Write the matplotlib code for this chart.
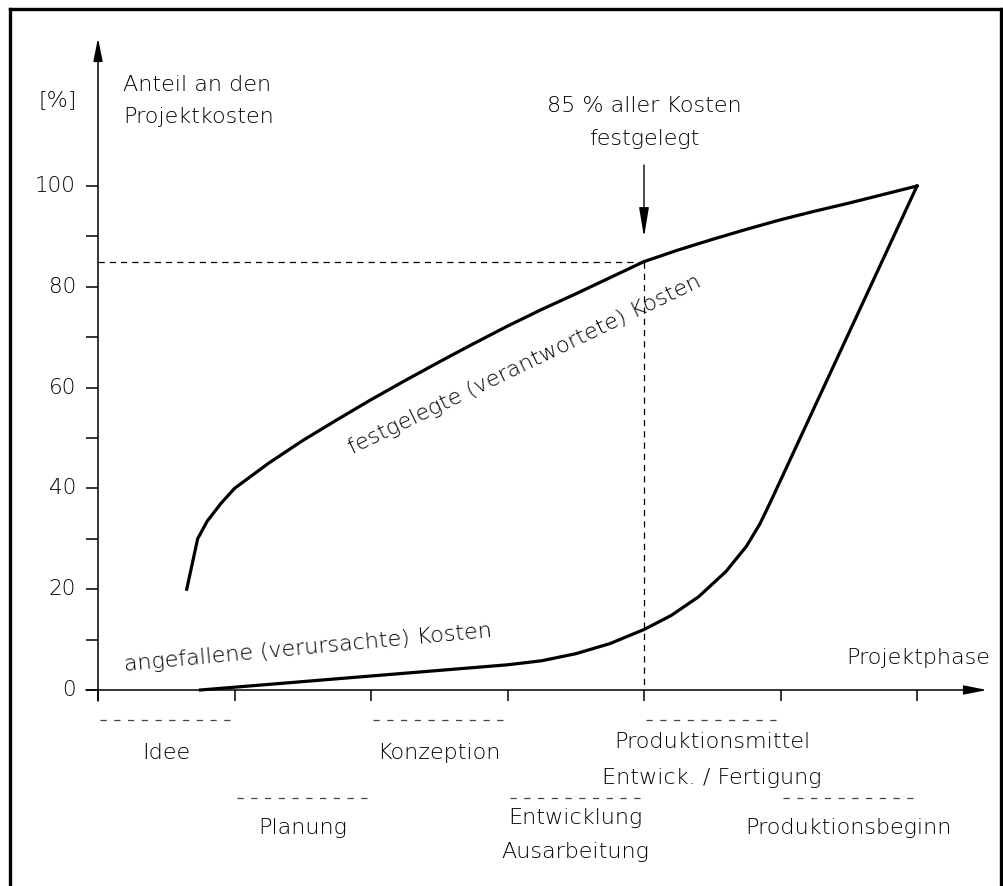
import matplotlib
matplotlib.use("Agg")
import matplotlib.pyplot as plt
from matplotlib.lines import Line2D

# ---------------- data ----------------
fest_x = [0.65, 0.73, 0.80, 0.90, 1.00, 1.25, 1.50, 1.75, 2.00, 2.25, 2.50, 2.75, 3.00,
          3.25, 3.50, 3.75, 4.00, 4.25, 4.50, 4.75, 5.00, 5.25, 5.50, 5.75, 6.00]
fest_y = [20, 30, 33.5, 37, 40, 45, 49.5, 53.6, 57.6, 61.4, 65.1, 68.7, 72.2,
          75.5, 78.6, 81.8, 85, 87.3, 89.4, 91.4, 93.3, 95.0, 96.6, 98.3, 100]

ang_x = [0.75, 3.00, 3.25, 3.50, 3.75, 4.00, 4.20, 4.40, 4.60, 4.75, 4.85, 4.93, 6.00]
ang_y = [0, 5.0, 5.8, 7.2, 9.2, 12.0, 14.8, 18.5, 23.5, 28.5, 33.0, 37.5, 100]

y_major = [0, 20, 40, 60, 80, 100]
y_minor = [10, 30, 50, 70, 90]
x_ticks = [0, 1, 2, 3, 4, 5, 6]

phases_row1 = ["Idee", "Konzeption", ["Produktionsmittel", "Entwick. / Fertigung"]]
phases_row2 = ["Planung", ["Entwicklung", "Ausarbeitung"], "Produktionsbeginn"]

mark_phase = 4
mark_value = 85

# ---------------- figure ----------------
W, H = 1004, 886
fig = plt.figure(figsize=(W / 100, H / 100), dpi=100)
fig.patch.set_facecolor("white")

x0_px, x6_px, y0_px, y100_px = 98, 917, 690, 186
ax = fig.add_axes([x0_px / W, (H - y0_px) / H, (x6_px - x0_px) / W, (y0_px - y100_px) / H])
ax.set_xlim(0, 6)
ax.set_ylim(0, 100)
ax.axis("off")

pxx = (x6_px - x0_px) / 6.0     # px per phase
pxy = (y0_px - y100_px) / 100.0  # px per percent

def dx(px):
    return px / pxx

def dy(px):
    return px / pxy

FONT = dict(family="DejaVu Sans", fontsize=16, color="black", fontweight="light")
TICKFONT = dict(family="DejaVu Sans", fontsize=15.5, color="black", fontweight="light")
LW_AX = 1.1

# frame
def fline(xs, ys, lw=2.4):
    fig.add_artist(Line2D([x / W for x in xs], [1 - y / H for y in ys], lw=lw, color="black",
                          transform=fig.transFigure, solid_capstyle="projecting"))

fline([10, 1001], [9, 9])
fline([10, 10], [9, 890])
fline([1001, 1001], [9, 890])

# axes with arrows
ax.annotate("", xy=(0, dy(y0_px - 38)), xytext=(0, -dy(11)),
            arrowprops=dict(arrowstyle="-|>,head_length=1.0,head_width=0.2", lw=LW_AX, color="black",
                            mutation_scale=14, shrinkA=0, shrinkB=0), annotation_clip=False)
ax.annotate("", xy=(dx(987 - x0_px), 0), xytext=(-dx(12), 0),
            arrowprops=dict(arrowstyle="-|>,head_length=1.0,head_width=0.2", lw=LW_AX, color="black",
                            mutation_scale=14, shrinkA=0, shrinkB=0), annotation_clip=False)

# y ticks
for v in y_major + y_minor:
    ax.plot([-dx(12), 0], [v, v], color="black", lw=LW_AX, clip_on=False, solid_capstyle="butt")
for v in y_major:
    ax.text(-dx(22), v, str(v), ha="right", va="center", **TICKFONT)

# x ticks
for p in x_ticks:
    ax.plot([p, p], [0, -dy(11)], color="black", lw=LW_AX, clip_on=False, solid_capstyle="butt")

# curves
ax.plot(fest_x, fest_y, color="black", lw=2.3, clip_on=False, solid_joinstyle="round")
ax.plot(ang_x, ang_y, color="black", lw=2.3, clip_on=False, solid_joinstyle="round")

# 85% markers
ax.plot([0, mark_phase], [mark_value, mark_value], color="black", lw=0.9, ls=(0, (5, 4)), clip_on=False)
ax.plot([mark_phase, mark_phase], [mark_value, 0], color="black", lw=0.9, ls=(0, (5, 4)), clip_on=False)
ax.annotate("", xy=(mark_phase, dy(y0_px - 237)), xytext=(mark_phase, dy(y0_px - 165)),
            arrowprops=dict(arrowstyle="-|>,head_length=1.8,head_width=0.3", lw=1.0, color="black",
                            mutation_scale=10, shrinkA=0, shrinkB=0), annotation_clip=False)
ax.text(mark_phase, dy(y0_px - 106), "85 % aller Kosten", ha="center", va="center", **FONT)
ax.text(mark_phase, dy(y0_px - 139), "festgelegt", ha="center", va="center", **FONT)

# axis titles
ax.text(-dx(x0_px - 58), dy(y0_px - 100), "[%]", ha="center", va="center", clip_on=False, **FONT)
ax.text(dx(123 - x0_px), dy(y0_px - 85), "Anteil an den", ha="left", va="center", **FONT)
ax.text(dx(123 - x0_px), dy(y0_px - 117), "Projektkosten", ha="left", va="center", **FONT)
ax.text(dx(990 - x0_px), dy(y0_px - 658), "Projektphase", ha="right", va="center", **FONT)

# curve labels
ax.text(dx(525 - x0_px), dy(y0_px - 365), "festgelegte (verantwortete) Kosten", ha="center", va="center",
        rotation=25.7, rotation_mode="anchor", **FONT)
ax.text(dx(125 - x0_px), dy(y0_px - 671), "angefallene (verursachte) Kosten", ha="left", va="baseline",
        rotation=5.3, rotation_mode="anchor", **FONT)

# phase labels below axis
row1_dash_y = -dy(720 - y0_px)
row2_dash_y = -dy(798 - y0_px)
for i, lab in enumerate(phases_row1):
    p = 2 * i
    ax.plot([p + dx(2), p + 1 - dx(2)], [row1_dash_y] * 2, color="#444444", lw=0.9, ls=(0, (5, 6)), clip_on=False)
    if isinstance(lab, list):
        ax.text(p + 0.5, -dy(742 - y0_px), lab[0], ha="center", va="center", **FONT)
        ax.text(p + 0.5, -dy(778 - y0_px), lab[1], ha="center", va="center", **FONT)
    else:
        ax.text(p + 0.5, -dy(753 - y0_px), lab, ha="center", va="center", **FONT)
for i, lab in enumerate(phases_row2):
    p = 2 * i + 1
    ax.plot([p + dx(2), p + 1 - dx(2)], [row2_dash_y] * 2, color="#444444", lw=0.9, ls=(0, (5, 6)), clip_on=False)
    if isinstance(lab, list):
        ax.text(p + 0.5, -dy(818 - y0_px), lab[0], ha="center", va="center", **FONT)
        ax.text(p + 0.5, -dy(852 - y0_px), lab[1], ha="center", va="center", **FONT)
    else:
        ax.text(p + 0.5, -dy(828 - y0_px), lab, ha="center", va="center", **FONT)

fig.savefig("out.png", dpi=100, facecolor="white")
